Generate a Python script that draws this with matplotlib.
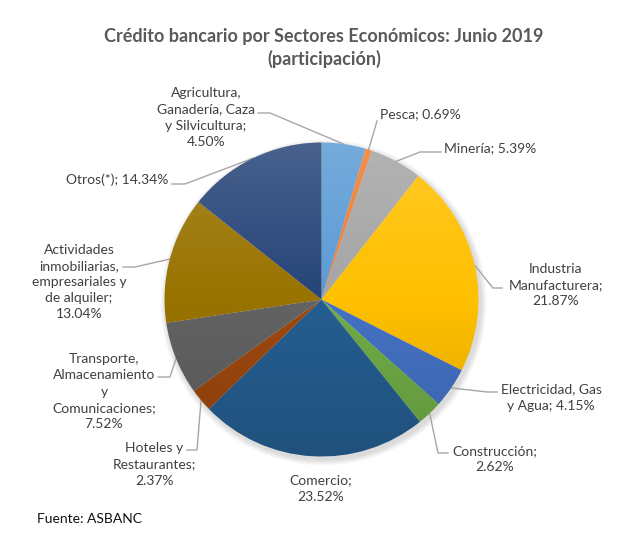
import numpy as np
import matplotlib
matplotlib.use('Agg')
import matplotlib.pyplot as plt
from matplotlib.patches import Circle

plt.rcParams['font.family'] = ['Lato', 'DejaVu Sans']

# datos (participación %)
sectores = ['Agricultura,\nGanadería, Caza\ny Silvicultura;', 'Pesca;', 'Minería;',
            'Industria\nManufacturera;', 'Electricidad, Gas\ny Agua;', 'Construcción;',
            'Comercio;', 'Hoteles y\nRestaurantes;',
            'Transporte,\nAlmacenamiento\ny\nComunicaciones;',
            'Actividades\ninmobiliarias,\nempresariales y\nde alquiler;', 'Otros(*);']
valores = [4.50, 0.69, 5.39, 21.87, 4.15, 2.62, 23.52, 2.37, 7.52, 13.04, 14.34]
colores = ['#5B9BD5', '#ED7D31', '#A5A5A5', '#FFC000', '#4472C4', '#70AD47',
           '#255E91', '#9E480E', '#636363', '#997300', '#264478']
# separador entre nombre y porcentaje: ' ' en la misma linea, '\n' en otra
sep = ['\n', ' ', ' ', '\n', ' ', '\n', '\n', '\n', '\n', '\n', ' ']

W, H = 640, 545
cx, cy, r = 321.5, 299.5, 157

# posiciones de etiquetas (pixeles desde arriba): texto, fin de linea, codo
txt_pos = [(206, 117.5), (420, 114), (490, 148), (556, 285), (551, 397.5), (494.5, 459),
           (321, 488.5), (154.5, 464.5), (104, 391.5), (79, 282), (117.5, 180)]
fin_pos = [(258, 113), (377, 121), (441, 152), (502, 288), (497, 392), (448, 453),
           None, (187, 450), (158, 377), (123, 267), (172, 184)]
codo_pos = [(270, 113), (377, 121), (420, 152), (493, 288), (487, 392), (438, 453),
            None, (197, 450), (170, 377), (135, 267), (185, 184)]

fig = plt.figure(figsize=(W / 100, H / 100), dpi=100)
ax = fig.add_axes([0, 0, 1, 1])

# sombra suave
for k in range(1, 7):
    ax.add_patch(Circle((cx + 2, H - cy - 3), r + k, color='#000000', alpha=0.025,
                        lw=0, zorder=1))

wedges, _ = ax.pie(valores, colors=colores, startangle=90, counterclock=False,
                   center=(cx, H - cy), radius=r, wedgeprops=dict(linewidth=0),
                   frame=False)
for w in wedges:
    w.set_zorder(3)

# degradado suave sobre el pastel
t = np.linspace(0, 1, 256)
grad = np.zeros((256, 1, 4))
top = t < 0.5
grad[top, 0, :3] = 1.0
grad[top, 0, 3] = 0.16 * (1 - 2 * t[top])
grad[~top, 0, 3] = 0.14 * (2 * t[~top] - 1)
im = ax.imshow(grad, extent=[cx - r, cx + r, H - cy - r, H - cy + r],
               aspect='auto', zorder=4, interpolation='bilinear')
im.set_clip_path(Circle((cx, H - cy), r, transform=ax.transData))

# etiquetas con lineas guia
for i, w in enumerate(wedges):
    label = sectores[i] + sep[i] + f'{valores[i]:.2f}%'
    tx, ty = txt_pos[i]
    ax.text(tx, H - ty, label, ha='center', va='center', fontsize=10,
            color='#404040', linespacing=1.42, zorder=5)
    if fin_pos[i] is None:
        continue
    ang = np.deg2rad((w.theta1 + w.theta2) / 2)
    ex, ey = cx + r * np.cos(ang), (H - cy) + r * np.sin(ang)
    bx, by = codo_pos[i]
    fx, fy = fin_pos[i]
    ax.plot([ex, bx, fx], [ey, H - by, H - fy], color='#A6A6A6', lw=1.0, zorder=2)

ax.text(324, H - 48, 'Crédito bancario por Sectores Económicos: Junio 2019\n(participación)',
        ha='center', va='center', fontsize=13, fontweight='bold', color='#595959',
        linespacing=1.38)
ax.text(37, H - 519, 'Fuente: ASBANC', ha='left', va='center', fontsize=10, color='#111111')

ax.set_xlim(0, W)
ax.set_ylim(0, H)
ax.set_aspect('equal')
ax.axis('off')
fig.savefig('out.png', dpi=100, facecolor='white')
